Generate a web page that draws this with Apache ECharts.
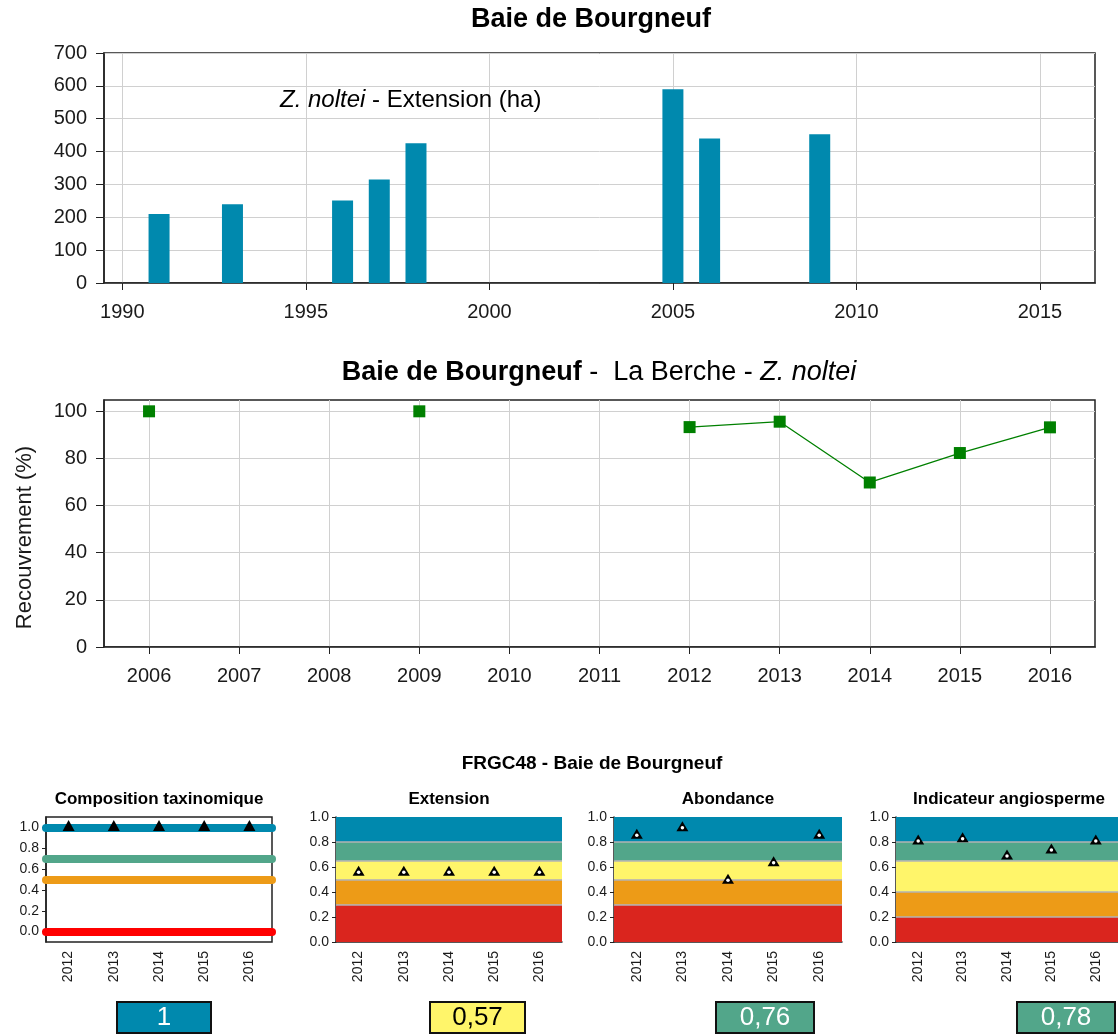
<!DOCTYPE html>
<html>
<head>
<meta charset="utf-8">
<script src="https://cdn.jsdelivr.net/npm/echarts@6/dist/echarts.min.js"></script>
<style>
  html, body { margin: 0; padding: 0; background: #fff; }
  #chart { width: 1118px; height: 1034px; }
</style>
</head>
<body>
<div id="chart"></div>
<script>
// extension of Z. noltei (ha)
const extYears = [1991, 1993, 1996, 1997, 1998, 2005, 2006, 2009]
const extValues = [210, 240, 251, 315, 425, 590, 440, 453]
const extTicks = [1990, 1995, 2000, 2005, 2010, 2015]

// La Berche cover (%)
const berYears = [2006, 2007, 2008, 2009, 2010, 2011, 2012, 2013, 2014, 2015, 2016]
const berValues = [100, null, null, 100, null, null, 93.3, 95.6, 69.8, 82.3, 93.2]
const berTicks = [0, 20, 40, 60, 80, 100]

// indicator panels
const panelYears = ['2012', '2013', '2014', '2015', '2016']
const panelTicks = [0, 0.2, 0.4, 0.6, 0.8, 1.0]
const compValues = [1, 1, 1, 1, 1]
const compLevels = [1.0, 0.7, 0.5, 0.0]
const extIndex = [0.57, 0.57, 0.57, 0.57, 0.57]
const aboIndex = [0.867, 0.926, 0.507, 0.647, 0.867]
const angIndex = [0.82, 0.838, 0.70, 0.748, 0.82]
const extLimits = [0, 0.3, 0.5, 0.65, 0.8, 1.0]
const aboLimits = [0, 0.3, 0.5, 0.65, 0.8, 1.0]
const angLimits = [0, 0.2, 0.4, 0.65, 0.8, 1.0]
const panelTitles = ['Composition taxinomique', 'Extension', 'Abondance', 'Indicateur angiosperme']
const scoreLabels = ['1', '0,57', '0,76', '0,78']

const BLUE = '#0089ae'
const GREEN = '#52a68a'
const YELLOW = '#fff56a'
const ORANGE = '#ed9b17'
const RED = '#da251e'
const bandColors = [RED, ORANGE, YELLOW, GREEN, BLUE]
const compColors = [BLUE, GREEN, ORANGE, '#ff0000']
const FONT = 'Liberation Sans, Arial, sans-serif'
const INK = '#1a1a1a'

const chart = echarts.init(document.getElementById('chart'))

const panelGrids = [
  { left: 46, width: 226 },
  { left: 336, width: 226 },
  { left: 614, width: 228 },
  { left: 896, width: 226 }
]

const frame = { show: true, borderColor: '#222', borderWidth: 1.5, backgroundColor: 'transparent' }

const bandSeries = (limits, values, idx) => [
  {
    type: 'scatter',
    xAxisIndex: idx, yAxisIndex: idx,
    data: values,
    symbol: 'triangle',
    symbolSize: [12, 10],
    itemStyle: { color: '#000', opacity: 1 },
    z: 3,
    markArea: {
      silent: true,
      z: 1,
      data: bandColors.map((c, i) => [
        { yAxis: limits[i], itemStyle: { color: c } },
        { yAxis: limits[i + 1] }
      ])
    },
    markLine: {
      silent: true,
      z: 2,
      symbol: 'none',
      label: { show: false },
      lineStyle: { color: '#b3b3b3', width: 1.5, type: 'solid' },
      data: limits.slice(1, -1).map(v => ({ yAxis: v }))
    }
  },
  {
    type: 'scatter',
    xAxisIndex: idx, yAxisIndex: idx,
    data: values,
    symbol: 'circle',
    symbolSize: 3.5,
    symbolOffset: [0, 1.5],
    itemStyle: { color: '#fff', opacity: 1 },
    z: 4
  }
]

const smallX = idx => ({
  type: 'category',
  gridIndex: idx,
  data: panelYears,
  boundaryGap: true,
  axisLine: { show: true, lineStyle: { color: '#222', width: 1.5 } },
  axisTick: { alignWithLabel: true, length: 4, lineStyle: { color: '#222' } },
  axisLabel: { rotate: 90, fontSize: 14, color: INK, margin: 9, fontFamily: FONT },
  splitLine: { show: false }
})

const smallY = (idx, min, max) => ({
  type: 'value',
  gridIndex: idx,
  min, max,
  axisLine: { show: true, lineStyle: { color: '#222', width: 1.5 } },
  axisTick: { show: true, length: 4, customValues: panelTicks, lineStyle: { color: '#222' } },
  axisLabel: { fontSize: 14, color: INK, margin: 7, customValues: panelTicks, formatter: v => v.toFixed(1), fontFamily: FONT },
  splitLine: { show: false }
})

const yearLabel = v => String(Math.round(v))

const option = {
  animation: false,
  textStyle: { fontFamily: FONT },
  title: [
    {
      text: 'Baie de Bourgneuf',
      left: 591, top: 6, textAlign: 'center', padding: 0,
      textStyle: { fontSize: 27, fontWeight: 'bold', color: '#000', fontFamily: FONT }
    },
    {
      text: '{i|Z. noltei} - Extension (ha)',
      left: 280, top: 88, padding: 0,
      textStyle: {
        fontSize: 24, fontWeight: 'normal', color: '#000', fontFamily: FONT,
        rich: { i: { fontSize: 24, fontStyle: 'italic', color: '#000', fontFamily: FONT } }
      }
    },
    {
      text: '{b|Baie de Bourgneuf} -  La Berche - {i|Z. noltei}',
      left: 599, top: 359, textAlign: 'center', padding: 0,
      textStyle: {
        fontSize: 27, fontWeight: 'normal', color: '#000', fontFamily: FONT,
        rich: {
          b: { fontSize: 27, fontWeight: 'bold', color: '#000', fontFamily: FONT },
          i: { fontSize: 27, fontStyle: 'italic', color: '#000', fontFamily: FONT }
        }
      }
    },
    {
      text: 'FRGC48 - Baie de Bourgneuf',
      left: 592, top: 754, textAlign: 'center', padding: 0,
      textStyle: { fontSize: 19, fontWeight: 'bold', color: '#000', fontFamily: FONT }
    },
    ...panelTitles.map((t, i) => ({
      text: t,
      left: panelGrids[i].left + panelGrids[i].width / 2,
      top: 791, textAlign: 'center', padding: 0,
      textStyle: { fontSize: 17, fontWeight: 'bold', color: '#000', fontFamily: FONT }
    }))
  ],
  grid: [
    { left: 104, top: 53, width: 991, height: 230, ...frame },
    { left: 104, top: 400, width: 991, height: 247, ...frame },
    { left: 46, top: 817, width: 226, height: 125, ...frame },
    { left: 336, top: 817, width: 226, height: 125 },
    { left: 614, top: 817, width: 228, height: 125 },
    { left: 896, top: 817, width: 226, height: 125 }
  ],
  xAxis: [
    {
      type: 'value', gridIndex: 0, min: 1989.5, max: 2016.5,
      axisLine: { show: true, onZero: false, lineStyle: { color: '#222', width: 1.5 } },
      axisTick: { show: true, length: 7, customValues: extTicks, lineStyle: { color: '#222' } },
      axisLabel: { fontSize: 20, color: INK, margin: 19, customValues: extTicks, formatter: yearLabel },
      splitLine: { show: true, lineStyle: { color: '#d0d0d0', width: 1 } }
    },
    {
      type: 'value', gridIndex: 1, min: 2005.5, max: 2016.5,
      axisLine: { show: true, onZero: false, lineStyle: { color: '#222', width: 1.5 } },
      axisTick: { show: true, length: 7, customValues: berYears, lineStyle: { color: '#222' } },
      axisLabel: { fontSize: 20, color: INK, margin: 19, customValues: berYears, formatter: yearLabel },
      splitLine: { show: true, lineStyle: { color: '#d0d0d0', width: 1 } }
    },
    smallX(2), smallX(3), smallX(4), smallX(5)
  ],
  yAxis: [
    {
      type: 'value', gridIndex: 0, min: 0, max: 700, interval: 100,
      axisLine: { show: true, lineStyle: { color: '#222', width: 1.5 } },
      axisTick: { show: true, length: 8, lineStyle: { color: '#222' } },
      axisLabel: { fontSize: 20, color: INK, margin: 17 },
      splitLine: { show: true, lineStyle: { color: '#d0d0d0', width: 1 } }
    },
    {
      type: 'value', gridIndex: 1, min: 0, max: 104.8,
      name: 'Recouvrement (%)', nameLocation: 'middle', nameGap: 68,
      nameTextStyle: { fontSize: 22, color: INK, fontFamily: FONT, padding: [0, 28, 0, 0] },
      axisLine: { show: true, lineStyle: { color: '#222', width: 1.5 } },
      axisTick: { show: true, length: 8, customValues: berTicks, lineStyle: { color: '#222' } },
      axisLabel: { fontSize: 20, color: INK, margin: 17, customValues: berTicks },
      splitLine: { show: true, lineStyle: { color: '#d0d0d0', width: 1 } }
    },
    smallY(2, -0.1, 1.1), smallY(3, 0, 1), smallY(4, 0, 1), smallY(5, 0, 1)
  ],
  series: [
    {
      type: 'bar',
      xAxisIndex: 0, yAxisIndex: 0,
      data: extYears.map((y, i) => [y, extValues[i]]),
      barWidth: 21,
      itemStyle: { color: BLUE }
    },
    {
      type: 'line',
      xAxisIndex: 1, yAxisIndex: 1,
      data: berYears.map((y, i) => [y, berValues[i] == null ? '-' : berValues[i]]),
      connectNulls: false,
      symbol: 'rect',
      symbolSize: 12,
      showSymbol: true,
      lineStyle: { color: '#008000', width: 1.3 },
      itemStyle: { color: '#008000' }
    },
    {
      type: 'scatter',
      xAxisIndex: 2, yAxisIndex: 2,
      data: compValues,
      symbol: 'triangle',
      symbolSize: [12, 11],
      symbolOffset: [0, -2],
      itemStyle: { color: '#000', opacity: 1 },
      z: 3,
      markLine: {
        silent: true,
        z: 1,
        symbol: 'none',
        label: { show: false },
        data: compLevels.map((v, i) => ({
          yAxis: v,
          lineStyle: { color: compColors[i], width: 8, type: 'solid', cap: 'round' }
        }))
      }
    },
    ...bandSeries(extLimits, extIndex, 3),
    ...bandSeries(aboLimits, aboIndex, 4),
    ...bandSeries(angLimits, angIndex, 5)
  ],
  graphic: scoreLabels.map((s, i) => {
    const boxX = [117, 430, 716, 1017][i]
    const boxW = [94, 95, 98, 98][i]
    const fill = [BLUE, YELLOW, GREEN, GREEN][i]
    const ink = i === 1 ? '#000' : '#fff'
    return {
      type: 'group',
      x: boxX, y: 1002,
      children: [
        { type: 'rect', shape: { x: 0, y: 0, width: boxW, height: 31 }, style: { fill, stroke: '#111', lineWidth: 2 } },
        {
          type: 'text', x: boxW / 2, y: 16,
          style: { text: s, fill: ink, fontSize: 26, fontFamily: FONT, align: 'center', verticalAlign: 'middle' }
        }
      ]
    }
  })
}

chart.setOption(option)
</script>
</body>
</html>
